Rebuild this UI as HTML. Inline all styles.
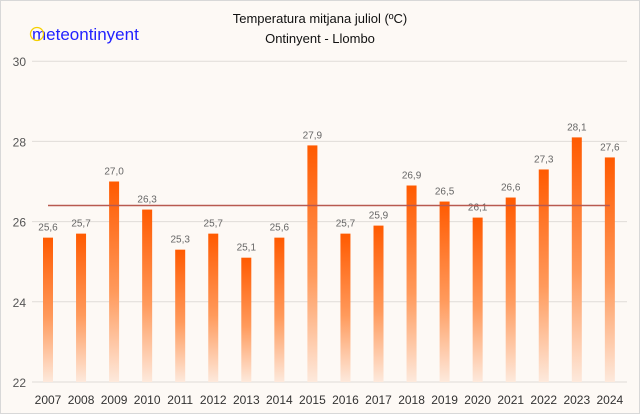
<!DOCTYPE html>
<html><head><meta charset="utf-8"><style>
body{margin:0;background:#fff}
svg{display:block;font-family:"Liberation Sans","DejaVu Sans",sans-serif}
</style></head><body>
<svg id="c" width="640" height="414" viewBox="0 0 640 414">
<defs><linearGradient id="g" x1="0" y1="0" x2="0" y2="1">
<stop offset="0" stop-color="#ff5a00"/><stop offset="0.55" stop-color="#ff9a5c"/><stop offset="1" stop-color="#fde9dc"/></linearGradient></defs>
<rect x="0.5" y="0.5" width="639" height="413" fill="#fdf9f5" stroke="#d8d8d8"/>
<text x="32" y="40" font-size="17" fill="#2222ff">meteontinyent</text>
<circle cx="37" cy="34" r="6.5" fill="none" stroke="#f5d000" stroke-width="1.3"/>
<text x="320" y="23" font-size="13" text-anchor="middle" fill="#111">Temperatura mitjana juliol (ºC)</text>
<text x="320" y="43" font-size="13" text-anchor="middle" fill="#111">Ontinyent - Llombo</text>
<g id="grid"></g><g id="bars"></g><g id="labels"></g>
</svg>
<script>
const years=["2007","2008","2009","2010","2011","2012","2013","2014","2015","2016","2017","2018","2019","2020","2021","2022","2023","2024"];
const temps=[25.6,25.7,27.0,26.3,25.3,25.7,25.1,25.6,27.9,25.7,25.9,26.9,26.5,26.1,26.6,27.3,28.1,27.6];
const yTicks=[22,24,26,28,30];
const average=[26.4];
const NS="http://www.w3.org/2000/svg";
const y=v=>382-(v-22)*40.1;
const x=i=>48+i*33.05;
function mk(t,a,p){const e=document.createElementNS(NS,t);for(const k in a)e.setAttribute(k,a[k]);p.appendChild(e);return e;}
const grid=document.getElementById('grid'),bars=document.getElementById('bars'),labels=document.getElementById('labels');
yTicks.forEach(v=>{
 const l=mk('line',{x1:32,x2:627,y1:y(v),y2:y(v),stroke:'#e0dcd8','stroke-width':1},grid);
 
 
 const t=mk('text',{x:26,y:y(v)+5,'text-anchor':'end','font-size':12,fill:'#555'},grid);
 t.textContent=v;
 
 
});
temps.forEach((v,i)=>{
 const r=mk('rect',{x:x(i)-5,y:y(v),width:10,height:y(22)-y(v),fill:'url(#g)'},bars);
 
 
 const t=mk('text',{x:x(i),y:y(v)-7,'text-anchor':'middle','font-size':10,fill:'#666'},labels);
 t.textContent=v.toFixed(1).replace('.',',');
 
 
 const xt=mk('text',{x:x(i),y:404,'text-anchor':'middle','font-size':12,fill:'#333'},labels);
 xt.textContent=years[i];
 
 
});
const al=mk('line',{x1:x(0),x2:x(temps.length-1),y1:y(average[0]),y2:y(average[0]),stroke:'#b85a50','stroke-width':1.5},labels);


</script>
</body></html>
